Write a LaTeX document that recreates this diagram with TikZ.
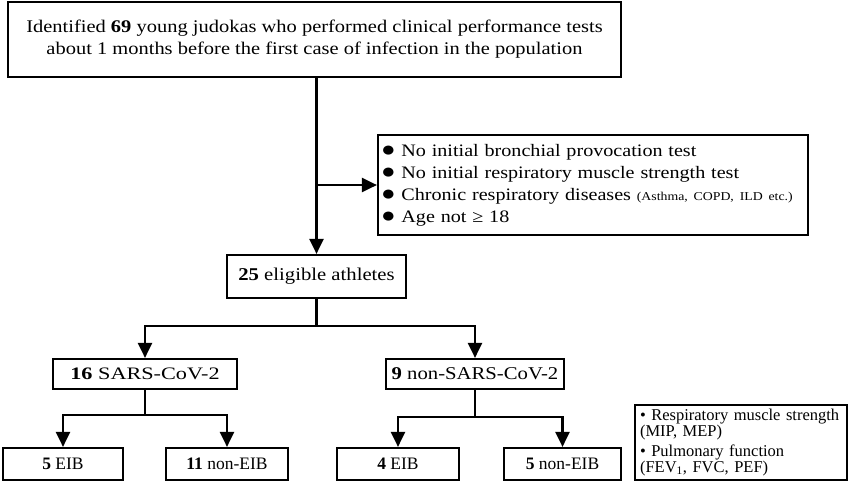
\documentclass[tikz,border=0pt]{standalone}
\usepackage{fontspec}
\setmainfont{Liberation Serif}
\newfontfamily\wideserif[FakeStretch=1.15]{Liberation Serif}
\newfontfamily\widerserif[FakeStretch=1.27]{Liberation Serif}
\usetikzlibrary{positioning, arrows.meta}

\newcommand{\blt}{{\fontsize{21}{22}\selectfont●}}

\tikzset{
  box/.style={draw, line width=2.2pt, align=center, inner sep=0pt,
    font=\wideserif\fontsize{18}{22}\selectfont},
  arr/.style={line width=2.2pt, -{Triangle[width=14pt,length=15pt]}},
  link/.style={line width=2.2pt},
}

\begin{document}
\begin{tikzpicture}[x=1pt, y=-1pt]
        \useasboundingbox (0,0) rectangle (850,483);
        \node[box, minimum width=613pt, minimum height=75pt,
              font=\wideserif\fontsize{17.8}{22}\selectfont] (top) at (314.5,39.5)
            {Identified \textbf{69} young judokas who performed clinical performance tests\\
             about 1 months before the first case of infection in the population};
        \node[box, align=left, minimum width=430pt, minimum height=100pt, text width=424pt,
              font=\wideserif\fontsize{17.5}{22}\selectfont] (excl) at (593,185)
            {\blt{} No initial bronchial provocation test\\
             \blt{} No initial respiratory muscle strength test\\
             \blt{} Chronic respiratory diseases {\fontsize{12}{14}\selectfont(Asthma, COPD, ILD etc.)}\\
             \blt{} Age not ≥ 18};
        \node[box, minimum width=179pt, minimum height=43pt] (elig) at (316.5,276.5)
            {\textbf{25} eligible athletes};
        \node[box, minimum width=184pt, minimum height=30pt,
              font=\widerserif\fontsize{17.5}{22}\selectfont] (sars) at (145,374)
            {\textbf{16} SARS-CoV-2};
        \node[box, minimum width=178pt, minimum height=30pt] (nsars) at (475,374)
            {\textbf{9} non-SARS-CoV-2};
        \node[box, minimum width=120pt, minimum height=32pt, font=\fontsize{17.5}{20}\selectfont] (eib1) at (63,464)
            {\textbf{5} EIB};
        \node[box, minimum width=122pt, minimum height=32pt, font=\fontsize{17.5}{20}\selectfont] (neib1) at (227,464)
            {\textbf{11} non-EIB};
        \node[box, minimum width=122pt, minimum height=32pt, font=\fontsize{17.5}{20}\selectfont] (eib2) at (398,464)
            {\textbf{4} EIB};
        \node[box, minimum width=117pt, minimum height=32pt, font=\fontsize{17.5}{20}\selectfont] (neib2) at (562.5,464)
            {\textbf{5} non-EIB};
        \node[box, align=left, minimum width=212pt, minimum height=75pt, text width=202pt,
              font=\fontsize{16.5}{15}\selectfont] (legend) at (741,442.5)
            {\textbullet{} Respiratory muscle strength\\
             (MIP, MEP)\\[3pt]
             \textbullet{} Pulmonary function\\
             (FEV\textsubscript{1}, FVC, PEF)};
        % exclusion and split
        \draw[arr] (top.south -| elig.north) -- (elig.north);
        \draw[arr] (excl.west -| elig.north) -- (excl.west);
        \draw[link] (elig.south) -- ++(0,27) coordinate (split);
        \draw[arr] (split) -| (sars.north);
        \draw[arr] (split) -| (nsars.north);
        % sub groups
        \draw[link] (sars.south) -- ++(0,25) coordinate (splitA);
        \draw[arr] (splitA) -| (eib1.north);
        \draw[arr] (splitA) -| (neib1.north);
        \draw[link] (nsars.south) -- ++(0,27) coordinate (splitB);
        \draw[arr] (splitB) -| (eib2.north);
        \draw[arr] (splitB) -| (neib2.north);
    \end{tikzpicture}
\end{document}
